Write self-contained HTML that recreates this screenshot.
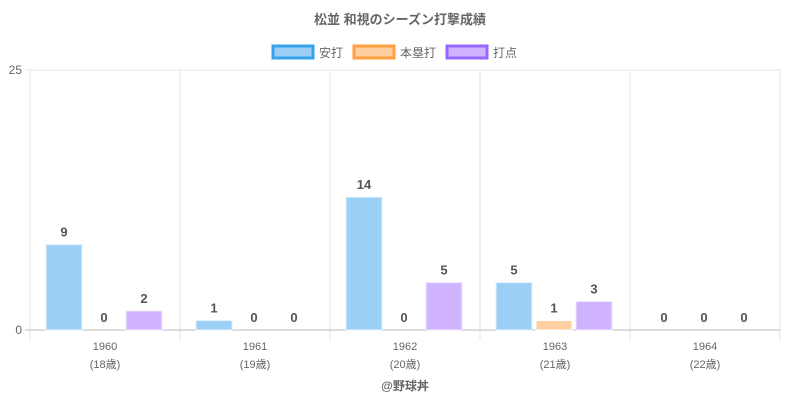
<!DOCTYPE html>
<html><head><meta charset="utf-8"><style>
body{margin:0;background:#fff;font-family:"Liberation Sans","Noto Sans CJK JP",sans-serif}
</style></head><body>
<svg id="c" width="800" height="400" xmlns="http://www.w3.org/2000/svg" font-family="Liberation Sans, Noto Sans CJK JP, sans-serif">
<text x="400" y="24" text-anchor="middle" font-size="13" font-weight="bold" fill="#666">松並 和視のシーズン打撃成績</text>
<g>
<g><rect x="273" y="46" width="40" height="12" fill="#9ccff5" stroke="#36a2eb" stroke-width="3"/><text x="319" y="57" font-size="12" fill="#666">安打</text></g>
<g><rect x="354" y="46" width="40" height="12" fill="#ffcf9f" stroke="#ff9f40" stroke-width="3"/><text x="400" y="57" font-size="12" fill="#666">本塁打</text></g>
<g><rect x="447" y="46" width="40" height="12" fill="#d0b3ff" stroke="#9966ff" stroke-width="3"/><text x="493" y="57" font-size="12" fill="#666">打点</text></g>
</g>
<g id="plot"></g>
<text x="405" y="390" text-anchor="middle" font-size="12" font-weight="bold" fill="#666">@野球丼</text>
</svg>
<script>
const years=["1960","1961","1962","1963","1964"];
const ages=["(18歳)","(19歳)","(20歳)","(21歳)","(22歳)"];
const hits=[9,1,14,5,0];
const homeruns=[0,0,0,1,0];
const rbi=[2,0,5,3,0];
const yTicks=[0,25];
const yMax=27.4;
const L=30,R=780,T=70,B=330;
const g=document.getElementById('plot');
const NS='http://www.w3.org/2000/svg';
function y(v){return B-(v/yMax)*(B-T);}
function mk(t,a,p){const e=document.createElementNS(NS,t);for(const k in a)e.setAttribute(k,a[k]);p.appendChild(e);return e;}
const gw=(R-L)/years.length;
// grid
for(let i=0;i<=years.length;i++){
 const ln=mk('line',{x1:L+i*gw,x2:L+i*gw,y1:T,y2:B+10,stroke:'#e6e6e6'},g);
 
 
}
yTicks.forEach((t,i)=>{
 const yy=i===yTicks.length-1?T:y(t);
 const ln=mk('line',{x1:L-5,x2:R,y1:yy,y2:yy,stroke:t===0?'#bbb':'#e6e6e6'},g);
 
 
 const tx=mk('text',{x:L-8,y:yy+4,'text-anchor':'end','font-size':'12',fill:'#666'},g);
 tx.textContent=t;
 
 
});
const series=[[hits,'#9ccff5','#e3f2fd','hits'],[homeruns,'#ffcf9f','#fff','homeruns'],[rbi,'#d0b3ff','#f0e8ff','rbi']];
years.forEach((yr,i)=>{
 const gx=L+i*gw;
 series.forEach((s,j)=>{
  const v=s[0][i];
  const bx=gx+16+j*40,bw=36;
  if(v>0){
   const r=mk('rect',{x:bx,y:y(v),width:bw,height:B-y(v),fill:s[1],stroke:s[2],'stroke-width':1},g);
   
   
  }
  const lb=mk('text',{x:bx+bw/2,y:y(v)-8,'text-anchor':'middle','font-size':'13','font-weight':'bold',fill:'#555'},g);
  lb.textContent=v;
  
  
 });
 const t1=mk('text',{x:gx+gw/2,y:350,'text-anchor':'middle','font-size':'11',fill:'#666'},g);
 t1.textContent=yr;
 
 
 const t2=mk('text',{x:gx+gw/2,y:368,'text-anchor':'middle','font-size':'11',fill:'#666'},g);
 t2.textContent=ages[i];
 
 
});
</script>
</body></html>
